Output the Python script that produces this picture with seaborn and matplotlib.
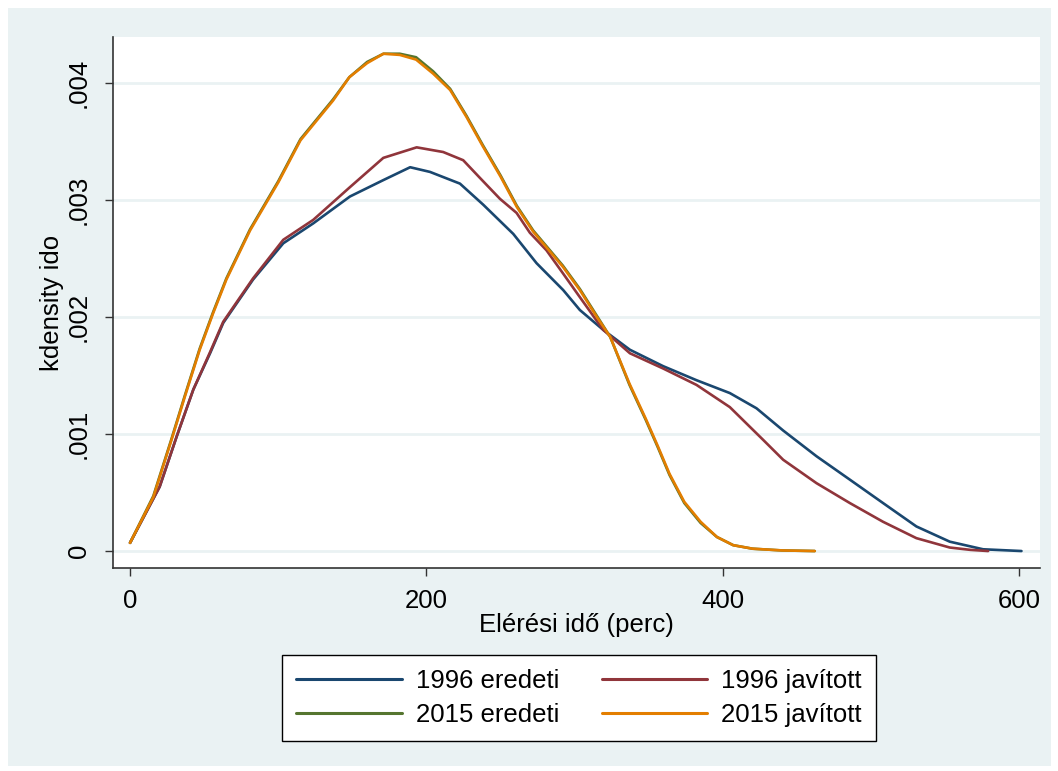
import numpy as np
import pandas as pd
import seaborn as sns
import matplotlib.pyplot as plt
from matplotlib.patches import Rectangle

# kernel density curves (density in 1/1000)
x_1996_ered = [0, 20, 31.5, 42.7, 54, 62.9, 83, 103.4, 123.6, 148.4, 170.9, 189, 202.4,
               222.6, 238.3, 258.6, 274.3, 292.3, 303.5, 319.3, 337.3, 359.7, 382.2,
               404.7, 422.7, 440.7, 463.2, 485.7, 508.1, 530.6, 553.1, 575.6, 601.5]
y_1996_ered = [0.07, 0.55, 0.98, 1.38, 1.69, 1.95, 2.32, 2.63, 2.80, 3.03, 3.17, 3.28, 3.24,
               3.14, 2.96, 2.71, 2.46, 2.23, 2.06, 1.89, 1.72, 1.58, 1.46,
               1.35, 1.22, 1.03, 0.81, 0.61, 0.41, 0.21, 0.08, 0.015, 0.0]

x_1996_jav = [0, 20, 31.5, 42.7, 54, 62.9, 83, 103.4, 123.6, 148.4, 170.9, 193.4, 211.3,
              224.8, 236, 249.6, 260.8, 269.8, 281, 292.3, 303.5, 319.3, 337.3, 359.7,
              382.2, 404.7, 427.2, 440.7, 463.2, 485.7, 508.1, 530.6, 553.1, 567, 579]
y_1996_jav = [0.07, 0.55, 0.98, 1.38, 1.70, 1.96, 2.33, 2.66, 2.83, 3.11, 3.36, 3.45, 3.41,
              3.34, 3.19, 3.01, 2.89, 2.72, 2.57, 2.37, 2.17, 1.89, 1.69, 1.56,
              1.42, 1.23, 0.95, 0.78, 0.58, 0.41, 0.25, 0.11, 0.03, 0.01, 0.0]

x_2015 = [0, 15.7, 28, 37, 47, 56, 65, 81, 100, 115, 137, 148, 160, 171, 182, 193, 204.5,
          216, 227, 238, 250, 261, 272, 292, 303.5, 315, 324, 337, 348, 356, 364, 374,
          385, 396, 407, 420, 440, 462]
y_2015_ered = [0.07, 0.47, 0.96, 1.33, 1.73, 2.04, 2.33, 2.75, 3.16, 3.52, 3.86, 4.05, 4.18,
               4.25, 4.25, 4.22, 4.10, 3.95, 3.72, 3.47, 3.21, 2.95, 2.74, 2.44, 2.24, 2.01,
               1.83, 1.42, 1.12, 0.89, 0.65, 0.41, 0.24, 0.12, 0.05, 0.02, 0.005, 0.0]
y_2015_jav = [0.07, 0.46, 0.95, 1.32, 1.72, 2.03, 2.32, 2.74, 3.15, 3.51, 3.85, 4.05, 4.17,
              4.25, 4.24, 4.20, 4.08, 3.94, 3.71, 3.46, 3.20, 2.94, 2.73, 2.43, 2.23, 2.00,
              1.83, 1.43, 1.13, 0.90, 0.66, 0.42, 0.25, 0.12, 0.05, 0.02, 0.005, 0.0]

labels = ["1996 eredeti", "1996 javított", "2015 eredeti", "2015 javított"]
colors = ["#1A476F", "#90353B", "#55752F", "#E37E00"]

series = [(x_1996_ered, y_1996_ered), (x_1996_jav, y_1996_jav),
          (x_2015, y_2015_ered), (x_2015, y_2015_jav)]
frames = []
for lab, (xs, ys) in zip(labels, series):
    frames.append(pd.DataFrame({"ido": xs, "dens": np.array(ys) * 1e-3, "sor": lab}))
df = pd.concat(frames, ignore_index=True)

sns.set_style("white")
plt.rcParams["font.family"] = ["Liberation Sans", "DejaVu Sans"]
plt.rcParams["text.color"] = "black"
plt.rcParams["axes.labelcolor"] = "black"
plt.rcParams["xtick.color"] = "black"
plt.rcParams["ytick.color"] = "black"

FS = 18.5
W, H = 1058, 771
fig = plt.figure(figsize=(W / 100, H / 100), dpi=100, facecolor="white")
# Stata-like light outer background
bg = Rectangle((8 / W, 5 / H), 1043 / W, 758 / H, transform=fig.transFigure,
               facecolor="#EAF2F3", edgecolor="none", zorder=-10)
fig.patches.append(bg)

ax = fig.add_axes([113 / W, 1 - 568 / H, (1040 - 113) / W, (568 - 37) / H])
ax.set_facecolor("white")

sns.lineplot(data=df, x="ido", y="dens", hue="sor", hue_order=labels,
             palette=dict(zip(labels, colors)), linewidth=1.9, sort=False,
             estimator=None, ax=ax, legend=False)

ax.set_xlim(-11.5, 614)
ax.set_ylim(-0.000145, 0.004393)
ax.set_xticks([0, 200, 400, 600])
ax.set_yticks([0, 0.001, 0.002, 0.003, 0.004])
ax.set_yticklabels(["0", ".001", ".002", ".003", ".004"], rotation=90, va="center")
ax.tick_params(axis="both", labelsize=FS, direction="out", length=6, width=1,
               color="#333333", left=True, bottom=True)
ax.tick_params(axis="x", pad=9)
ax.tick_params(axis="y", pad=10)
ax.grid(axis="y", color="#EAF2F3", linewidth=2)
ax.set_axisbelow(True)
for s in ["top", "right"]:
    ax.spines[s].set_visible(False)
for s in ["left", "bottom"]:
    ax.spines[s].set_color("#333333")
    ax.spines[s].set_linewidth(1.2)

ax.set_xlabel("Elérési idő (perc)", fontsize=FS, labelpad=0)
ax.set_ylabel("kdensity ido", fontsize=FS, labelpad=2)

handles = [plt.Line2D([], [], color=c, linewidth=2.2) for c in colors]
order = [0, 2, 1, 3]
leg = fig.legend([handles[i] for i in order], [labels[i] for i in order],
                 ncol=2, loc="center", bbox_to_anchor=(579 / W, 1 - 698 / H),
                 fontsize=FS, frameon=True, fancybox=False, edgecolor="black",
                 facecolor="white", framealpha=1,
                 handlelength=4.1, handletextpad=0.55, columnspacing=1.65,
                 borderpad=0.55, labelspacing=0.4)
leg.get_frame().set_linewidth(1.0)

fig.savefig("out.png", dpi=100, facecolor=fig.get_facecolor())
